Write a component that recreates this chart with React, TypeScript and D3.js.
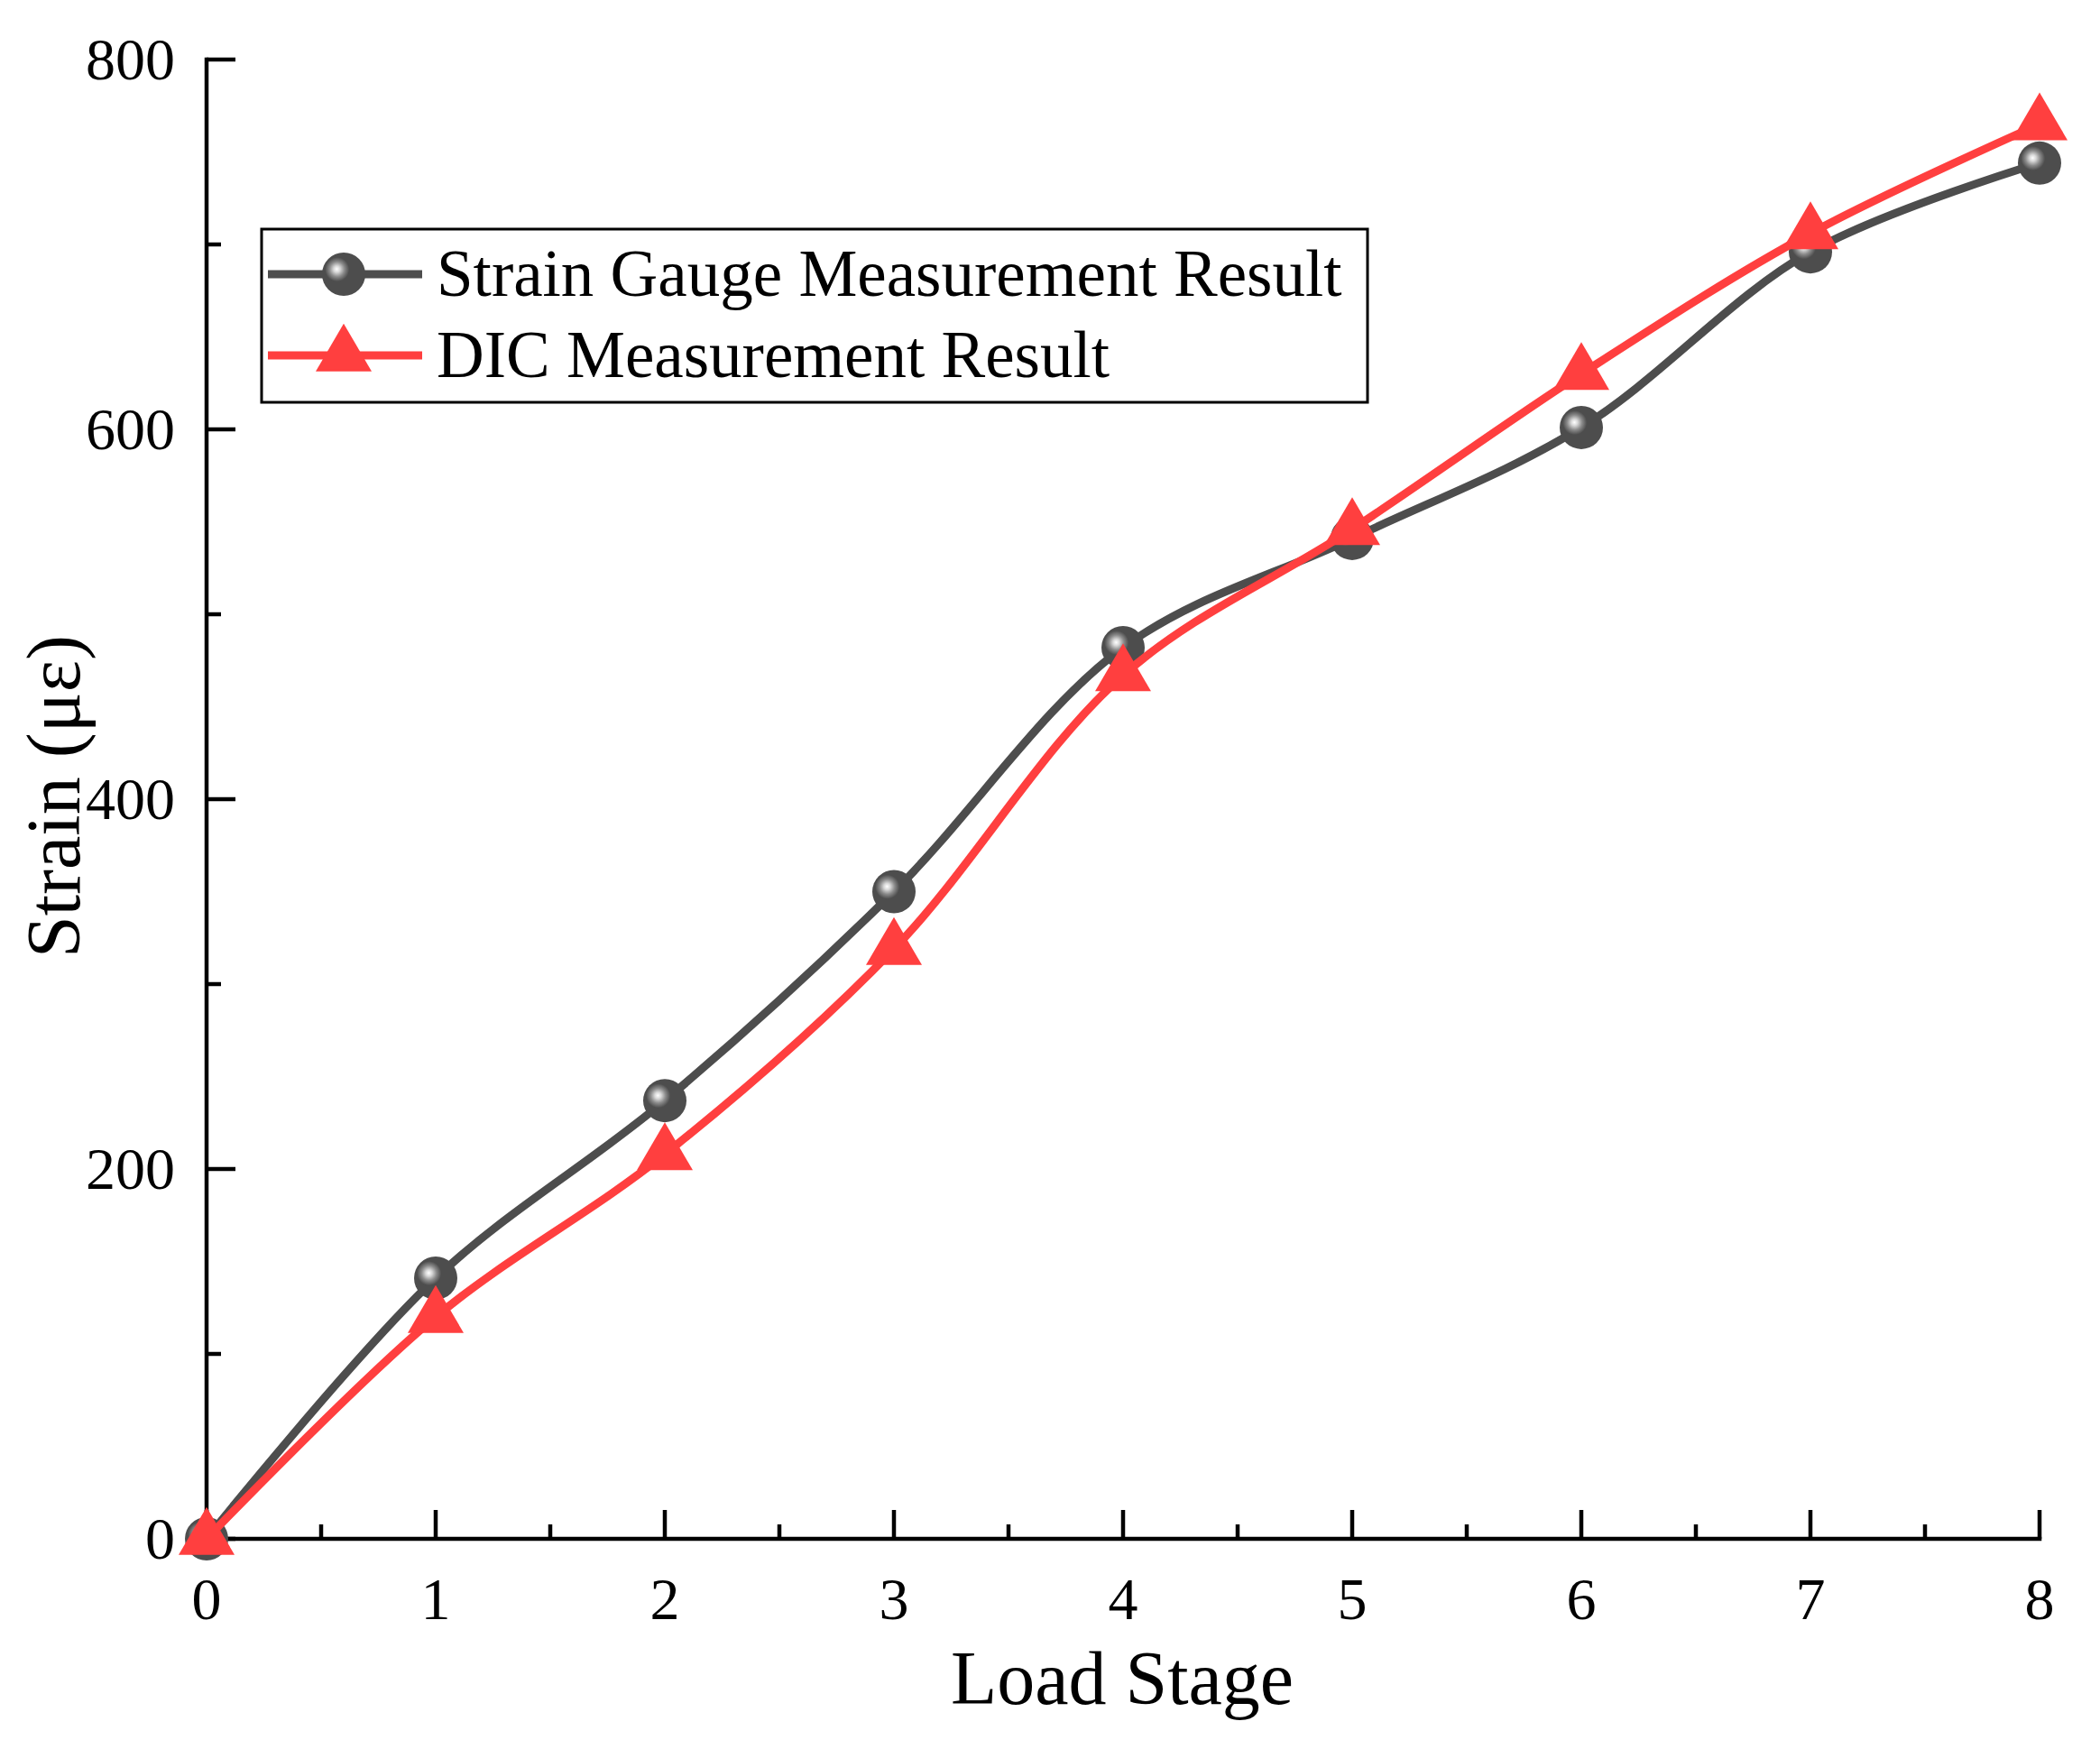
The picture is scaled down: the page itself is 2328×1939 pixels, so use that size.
import React from "react";
import * as d3 from "d3";

const stages = [0, 1, 2, 3, 4, 5, 6, 7, 8];
const strainGauge = [0, 141, 237, 350, 482, 541, 601, 696, 744];
const dicResult = [0, 120, 208, 319, 467, 546, 630, 706, 765];
const xTicks = [0, 1, 2, 3, 4, 5, 6, 7, 8];
const xMinorTicks = [0.5, 1.5, 2.5, 3.5, 4.5, 5.5, 6.5, 7.5];
const yTicks = [0, 200, 400, 600, 800];
const yMinorTicks = [100, 300, 500, 700];
const seriesNames = ["Strain Gauge Measurement Result", "DIC Measurement Result"];

const W = 2328;
const H = 1939;
const FONT = "'Liberation Serif', 'Times New Roman', Times, serif";
const GRAY = "#4d4d4d";
const RED = "#ff3f3f";

const x = d3.scaleLinear().domain([0, 8]).range([229, 2261]);
const y = d3.scaleLinear().domain([0, 800]).range([1706, 66]);

const line = d3
  .line<[number, number]>()
  .x((d) => x(d[0]))
  .y((d) => y(d[1]))
  .curve(d3.curveCatmullRom.alpha(0.5));

const TRI_W = 62;
const TRI_H = 53;
function triPath(cx: number, cy: number) {
  const top = cy - (2 / 3) * TRI_H;
  const bot = cy + (1 / 3) * TRI_H;
  return `M${cx},${top} L${cx + TRI_W / 2},${bot} L${cx - TRI_W / 2},${bot} Z`;
}

const R = 24;

function Sphere({ cx, cy }: { cx: number; cy: number }) {
  return <circle cx={cx} cy={cy} r={R} fill="url(#sphereGrad)" />;
}

export default function App() {
  const gaugePts = stages.map((s, i) => [s, strainGauge[i]] as [number, number]);
  const dicPts = stages.map((s, i) => [s, dicResult[i]] as [number, number]);
  const axisW = 4.5;
  const lineW = 9;

  const legX = 290;
  const legY = 254;
  const legW = 1226;
  const legH = 192;
  const row1 = 304;
  const row2 = 394;
  const lineX1 = 297;
  const lineX2 = 468;
  const markX = 381;
  const textX = 484;

  return (
    <svg
      width={W}
      height={H}
      viewBox={`0 0 ${W} ${H}`}
      style={{ position: "absolute", left: 0, top: 0, background: "#fff" }}
      fontFamily={FONT}
    >
      <defs>
        <radialGradient id="sphereGrad" cx="0.36" cy="0.4" r="0.62" fx="0.34" fy="0.38">
          <stop offset="0" stopColor="#ffffff" />
          <stop offset="0.12" stopColor="#d8d8d8" />
          <stop offset="0.28" stopColor="#8a8a8a" />
          <stop offset="0.45" stopColor={GRAY} />
          <stop offset="1" stopColor={GRAY} />
        </radialGradient>
      </defs>
      <rect x={0} y={0} width={W} height={H} fill="#fff" />

      {/* axes */}
      <line x1={x(0)} y1={y(800)} x2={x(0)} y2={y(0)} stroke="#000" strokeWidth={axisW} strokeLinecap="square" />
      <line x1={x(0)} y1={y(0)} x2={x(8)} y2={y(0)} stroke="#000" strokeWidth={axisW} strokeLinecap="square" />

      {xTicks.map((t) => (
        <g key={`xt${t}`}>
          <line x1={x(t)} x2={x(t)} y1={y(0)} y2={y(0) - 32} stroke="#000" strokeWidth={axisW} />
          <text x={x(t)} y={1795} fontSize={66} textAnchor="middle" fill="#000">
            {t}
          </text>
        </g>
      ))}
      {xMinorTicks.map((t) => (
        <line key={`xm${t}`} x1={x(t)} x2={x(t)} y1={y(0)} y2={y(0) - 16} stroke="#000" strokeWidth={axisW} />
      ))}
      {yTicks.map((t) => (
        <g key={`yt${t}`}>
          <line x1={x(0)} x2={x(0) + 32} y1={y(t)} y2={y(t)} stroke="#000" strokeWidth={axisW} />
          <text x={194} y={y(t) + 22} fontSize={66} textAnchor="end" fill="#000">
            {t}
          </text>
        </g>
      ))}
      {yMinorTicks.map((t) => (
        <line key={`ym${t}`} x1={x(0)} x2={x(0) + 16} y1={y(t)} y2={y(t)} stroke="#000" strokeWidth={axisW} />
      ))}

      {/* axis titles */}
      <text x={1244} y={1889} fontSize={84} textAnchor="middle" fill="#000">
        Load Stage
      </text>
      <text transform="translate(88,883) rotate(-90)" fontSize={84} textAnchor="middle" fill="#000">
        Strain (με)
      </text>

      {/* series: strain gauge */}
      <path d={line(gaugePts) || ""} fill="none" stroke={GRAY} strokeWidth={lineW} strokeLinejoin="round" />
      {gaugePts.map((p, i) => (
        <Sphere key={`g${i}`} cx={x(p[0])} cy={y(p[1])} />
      ))}

      {/* series: DIC */}
      <path d={line(dicPts) || ""} fill="none" stroke={RED} strokeWidth={lineW} strokeLinejoin="round" />
      {dicPts.map((p, i) => (
        <path key={`d${i}`} d={triPath(x(p[0]), y(p[1]))} fill={RED} />
      ))}

      {/* legend */}
      <rect x={legX} y={legY} width={legW} height={legH} fill="#fff" stroke="#000" strokeWidth={3} />
      <line x1={lineX1} x2={lineX2} y1={row1} y2={row1} stroke={GRAY} strokeWidth={lineW} />
      <Sphere cx={markX} cy={row1} />
      <text x={textX} y={328} fontSize={73} fill="#000">
        {seriesNames[0]}
      </text>
      <line x1={lineX1} x2={lineX2} y1={row2} y2={row2} stroke={RED} strokeWidth={lineW} />
      <path d={triPath(markX, row2)} fill={RED} />
      <text x={textX} y={418} fontSize={73} fill="#000">
        {seriesNames[1]}
      </text>
    </svg>
  );
}
